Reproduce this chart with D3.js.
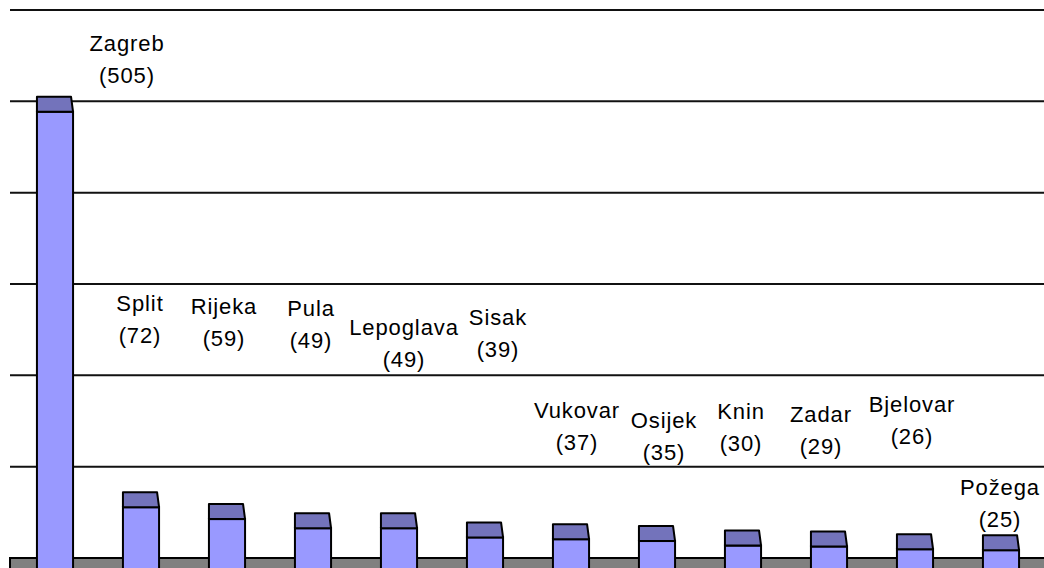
<!DOCTYPE html>
<html>
<head>
<meta charset="utf-8">
<script src="https://cdn.jsdelivr.net/npm/d3@7"></script>
<style>
  body { margin: 0; background: #fff; }
  svg { display: block; }
  .lbl { font-family: "Liberation Sans", Arial, sans-serif; font-size: 22px; letter-spacing: 0.9px; fill: #000; }
</style>
</head>
<body>
<div id="container"></div>
<script>
const width = 1044;
const height = 568;

// data
const cities = ["Zagreb", "Split", "Rijeka", "Pula", "Lepoglava", "Sisak",
  "Vukovar", "Osijek", "Knin", "Zadar", "Bjelovar", "Požega"];
const counts = [505, 72, 59, 49, 49, 39, 37, 35, 30, 29, 26, 25];
const gridValues = [0, 100, 200, 300, 400, 500, 600];

// label placement (labels were dragged by hand in the original)
const labelX = [127, 140, 224, 311, 404, 498, 577, 664, 741, 821, 912, 1000];
const labelY = [43, 303, 306, 308, 327, 317, 410, 420, 411, 414, 404, 487];

const wallLeft = 10;
const floorY = 558;
const depth = 15;

const xScale = d3.scaleBand()
  .domain(cities)
  .range([12, 12 + 86 * cities.length])
  .paddingInner(0.58)
  .paddingOuter(0.29);

const yScale = d3.scaleLinear()
  .domain([0, 600])
  .range([floorY, 10]);

const svg = d3.select("#container")
  .append("svg")
  .attr("width", width)
  .attr("height", height);

// gridlines on back wall
svg.selectAll("line.grid")
  .data(gridValues.filter(d => d > 0))
  .join("line")
  .attr("class", "grid")
  .attr("x1", wallLeft)
  .attr("x2", width)
  .attr("y1", d => yScale(d))
  .attr("y2", d => yScale(d))
  .attr("stroke", "#111")
  .attr("stroke-width", 2);

// floor
svg.append("rect")
  .attr("x", wallLeft)
  .attr("y", floorY)
  .attr("width", width - wallLeft + 5)
  .attr("height", height - floorY + 5)
  .attr("fill", "#808080")
  .attr("stroke", "#000")
  .attr("stroke-width", 2);

const bw = xScale.bandwidth();

const bars = svg.selectAll("g.bar")
  .data(cities.map((c, i) => ({ city: c, count: counts[i] })))
  .join("g")
  .attr("class", "bar");

// front face
bars.append("rect")
  .attr("x", d => xScale(d.city))
  .attr("y", d => yScale(d.count) + depth)
  .attr("width", bw)
  .attr("height", d => height - yScale(d.count) - depth + 5)
  .attr("fill", "#9999ff")
  .attr("stroke", "#000")
  .attr("stroke-width", 2);

// top cap
bars.append("path")
  .attr("d", d => {
    const x0 = xScale(d.city);
    const yb = yScale(d.count);
    return `M${x0},${yb}L${x0 + bw - 2},${yb}L${x0 + bw},${yb + depth}L${x0},${yb + depth}Z`;
  })
  .attr("fill", "#7373bb")
  .attr("stroke", "#000")
  .attr("stroke-width", 2)
  .attr("stroke-linejoin", "round");

// labels
const labels = svg.selectAll("text.lbl")
  .data(cities.map((c, i) => ({ city: c, count: counts[i], x: labelX[i], y: labelY[i] })))
  .join("text")
  .attr("class", "lbl")
  .attr("text-anchor", "middle")
  .attr("x", d => d.x)
  .attr("y", d => d.y);

labels.append("tspan")
  .attr("x", d => d.x)
  .attr("dy", "0.35em")
  .text(d => d.city);

labels.append("tspan")
  .attr("x", d => d.x)
  .attr("dy", 32)
  .text(d => `(${d.count})`);
</script>
</body>
</html>
